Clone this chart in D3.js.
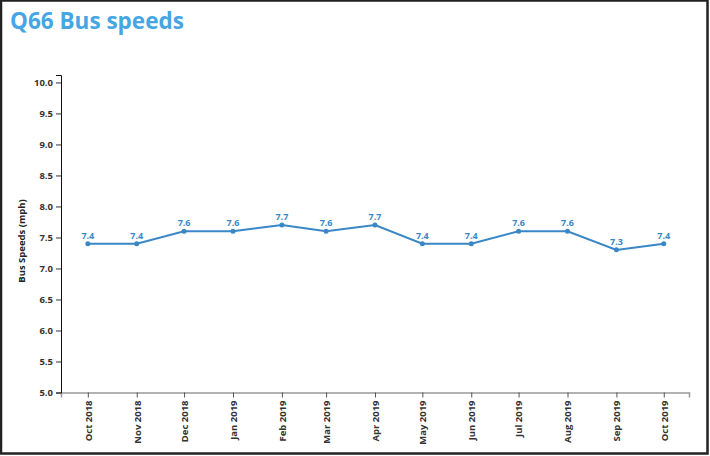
<!DOCTYPE html>
<html><head><meta charset="utf-8">
<script src="https://cdn.jsdelivr.net/npm/d3@7"></script>
<style>body{margin:0;background:#fff}svg{display:block}text{font-family:"Open Sans",sans-serif}</style>
</head><body><svg id="c" width="710" height="456"></svg>
<script>
const months = ["2018-10","2018-11","2018-12","2019-01","2019-02","2019-03","2019-04","2019-05","2019-06","2019-07","2019-08","2019-09","2019-10"];
const monthLabels = ["Oct 2018","Nov 2018","Dec 2018","Jan 2019","Feb 2019","Mar 2019","Apr 2019","May 2019","Jun 2019","Jul 2019","Aug 2019","Sep 2019","Oct 2019"];
const speeds = [7.4,7.4,7.6,7.6,7.7,7.6,7.7,7.4,7.4,7.6,7.6,7.3,7.4];
const yTicks = [5.0,5.5,6.0,6.5,7.0,7.5,8.0,8.5,9.0,9.5,10.0];
const title = "Q66 Bus speeds";
const yLabel = "Bus Speeds (mph)";

const svg = d3.select("#c");
const parse = d3.timeParse("%Y-%m");
const dates = months.map(parse);

svg.append("rect").attr("x",1).attr("y",0.5).attr("width",706.5).attr("height",453)
  .attr("fill","none").attr("stroke","#222").attr("stroke-width",2.5);

svg.append("text").attr("x",10).attr("y",28.5).text(title)
  .attr("fill","#45a6e3").attr("font-size",22.5).attr("font-weight",700);

const x = d3.scaleTime().domain([new Date(2018,8,14), new Date(2019,9,17)]).range([61,689]);
const y = d3.scaleLinear().domain([5,10.12]).range([392.5,75]);

const xAxis = svg.append("g").attr("transform","translate(0,392.5)")
  .call(d3.axisBottom(x).tickValues(dates).tickFormat((d,i)=>monthLabels[i]).tickSize(5).tickSizeOuter(5));
xAxis.select(".domain").attr("stroke","#999").attr("stroke-width",1.5);
xAxis.selectAll(".tick line").attr("stroke","#555");
xAxis.selectAll(".tick text").attr("transform","rotate(-90)").attr("text-anchor","end")
  .attr("x",-8).attr("y",0).attr("dy","0.35em").attr("font-size",9.5).attr("font-weight",700).attr("fill","#333");

const yAxis = svg.append("g").attr("transform","translate(61,0)")
  .call(d3.axisLeft(y).tickValues(yTicks).tickFormat(d3.format(".1f")).tickSize(5).tickSizeOuter(5));
yAxis.select(".domain").attr("stroke","#111");
yAxis.selectAll(".tick line").attr("stroke","#333");
yAxis.selectAll(".tick text").attr("font-size",9.5).attr("font-weight",700).attr("fill","#333");

svg.append("text").attr("transform","translate(25,241) rotate(-90)").attr("text-anchor","middle")
  .text(yLabel).attr("font-size",9.5).attr("font-weight",700).attr("fill","#222");

const line = d3.line().x((d,i)=>x(dates[i])).y(d=>y(d));
svg.append("path").datum(speeds).attr("d",line).attr("fill","none").attr("stroke","#3a87c6").attr("stroke-width",2);
svg.selectAll(".pt").data(speeds).join("circle").attr("class","pt")
  .attr("cx",(d,i)=>x(dates[i])).attr("cy",d=>y(d)).attr("r",2.5).attr("fill","#3a87c6");
svg.selectAll(".lbl").data(speeds).join("text").attr("class","lbl")
  .attr("x",(d,i)=>x(dates[i])).attr("y",d=>y(d)-5).attr("text-anchor","middle")
  .text(d=>d3.format(".1f")(d)).attr("font-size",9).attr("font-weight",700).attr("fill","#3a87c6");
</script></body></html>
